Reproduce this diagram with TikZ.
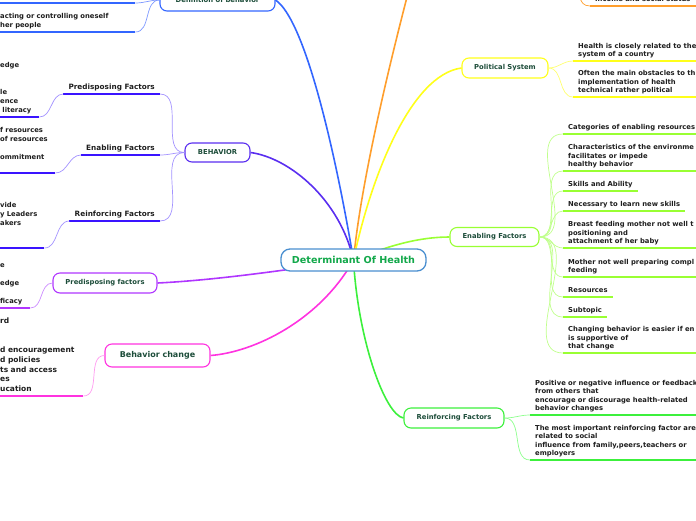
\documentclass[tikz,border=0pt]{standalone}
\usepackage{fontspec}
\setmainfont{DejaVu Sans}
\usetikzlibrary{backgrounds}

\definecolor{hubblue}{HTML}{4A8FD0}
\definecolor{hubgreen}{HTML}{12A84A}
\definecolor{topicgreen}{HTML}{1D4D3A}
\definecolor{leafgray}{HTML}{1E1E1E}
\definecolor{defblue}{HTML}{3366FF}
\definecolor{deftwig}{HTML}{7D98FF}
\definecolor{behviolet}{HTML}{5A2EF0}
\definecolor{behline}{HTML}{3A14FF}
\definecolor{behtwig}{HTML}{A393FF}
\definecolor{predpurple}{HTML}{B036FF}
\definecolor{predtwig}{HTML}{CC8CFF}
\definecolor{chgpink}{HTML}{FF33E0}
\definecolor{chgtwig}{HTML}{FF99F0}
\definecolor{econorange}{HTML}{FF9E2C}
\definecolor{polyellow}{HTML}{FFFF1A}
\definecolor{poltwig}{HTML}{FFFF70}
\definecolor{enablime}{HTML}{99FF33}
\definecolor{enabtwig}{HTML}{C0FF8C}
\definecolor{reinfgreen}{HTML}{3CF03C}
\definecolor{reinftwig}{HTML}{8CFF8C}

\begin{document}
\begin{tikzpicture}[x=1pt, y=1pt,
  hub/.style={draw=hubblue, fill=white, line width=1.3pt, rounded corners=9pt,
              minimum width=145pt, minimum height=22pt, inner sep=0pt,
              font=\bfseries\fontsize{9.6}{11}\selectfont, text=hubgreen},
  topic/.style={draw, fill=white, line width=1.1pt, rounded corners=7pt, inner sep=0pt,
              font=\bfseries\fontsize{6.8}{8}\selectfont, text=topicgreen},
  leaf/.style={anchor=south west, align=left, inner xsep=5pt, inner ysep=2.7pt,
              font=\bfseries\fontsize{6.8}{8.5}\selectfont, text=leafgray,
              execute at end node={\vphantom{gy}}},
  leafL/.style={leaf, font=\bfseries\fontsize{6.8}{9}\selectfont},
  label/.style={leaf, anchor=south east, font=\bfseries\fontsize{7.3}{8.5}\selectfont},
  limb/.style={line width=1.6pt},
  twig/.style={line width=0.7pt},
  uline/.style={line width=2pt}
]
\useasboundingbox (0,0) rectangle (696,-520);
\clip (0,0) rectangle (696,-520);

\node[hub] (hub) at (353.5,-260) {Determinant Of Health};

\node[topic, draw=defblue, minimum width=115pt, minimum height=22pt] (defn) at (217.5,0) {Definition of behavior};
\node[topic, draw=behviolet, minimum width=65pt, minimum height=19pt] (beh) at (217.5,-152.5) {BEHAVIOR};
\node[topic, draw=predpurple, minimum width=104pt, minimum height=20pt] (pred) at (105,-283) {Predisposing factors};
\node[topic, draw=chgpink, minimum width=105pt, minimum height=23pt,
      font=\bfseries\fontsize{8}{9}\selectfont] (chg) at (157.5,-355.5) {Behavior change};
\node[topic, draw=polyellow, minimum width=86pt, minimum height=20pt] (pol) at (505,-68) {Political System};
\node[topic, draw=enablime, minimum width=89pt, minimum height=19pt] (enab) at (494.5,-237) {Enabling Factors};
\node[topic, draw=reinfgreen, minimum width=100pt, minimum height=20pt] (reinf) at (454,-418) {Reinforcing Factors};
\coordinate (econW) at (425,70);
\coordinate (econE) at (572,60);

\node[leaf] (inc) at (590,-6) {Income and social status};

\node[leaf] (pol1) at (573,-61) {Health is closely related to the\\system of a country};
\node[leaf] (pol2) at (573,-97) {Often the main obstacles to th\\implementation of health\\technical rather political};

\node[leaf] (en1) at (563,-134) {Categories of enabling resources};
\node[leaf] (en2) at (563,-171) {Characteristics of the environme\\facilitates or impede\\healthy behavior};
\node[leaf] (en3) at (563,-191) {Skills and Ability};
\node[leaf] (en4) at (563,-211) {Necessary to learn new skills};
\node[leaf] (en5) at (563,-248) {Breast feeding mother not well t\\positioning and\\attachment of her baby};
\node[leaf] (en6) at (563,-277) {Mother not well preparing compl\\feeding};
\node[leaf] (en7) at (563,-297) {Resources};
\node[leaf] (en8) at (563,-317) {Subtopic};
\node[leaf] (en9) at (563,-353) {Changing behavior is easier if en\\is supportive of\\that change};

\node[leaf] (re1) at (530,-415) {Positive or negative influence or feedback\\from others that\\encourage or discourage health-related\\behavior changes};
\node[leaf] (re2) at (530,-460) {The most important reinforcing factor are\\related to social\\influence from family,peers,teachers or\\employers};

\node[leafL, text width=130pt] (def1) at (-5,-3) {};
\node[leafL, text width=130pt] (def2) at (-5,-32) {acting or controlling oneself\\her people};

\node[label] (bpre) at (160,-94) {Predisposing Factors};
\node[label] (benab) at (160,-155) {Enabling Factors};
\node[label] (breinf) at (160,-221) {Reinforcing Factors};
\node[leafL, text width=34pt] (bpre1) at (-5,-117) {edge\\\mbox{}\\\mbox{}\\le\\ence\\\ literacy};
\node[leafL, text width=50pt] (benab1) at (-5,-173) {f resources\\of resources\\\mbox{}\\ommitment\\\mbox{}};
\node[leafL, text width=39pt] (breinf1) at (-5,-248) {vide\\y Leaders\\akers\\\mbox{}\\\mbox{}};

\node[leafL, text width=25pt] (pred1) at (-5,-308) {e\\\mbox{}\\edge\\\mbox{}\\ficacy};
\node[leafL, text width=78pt, font=\bfseries\fontsize{7.5}{9.7}\selectfont] (chg1) at (-5,-396)
  {rd\\\mbox{}\\\mbox{}\\d encouragement\\d policies\\ts and access\\es\\ucation};

\begin{scope}[on background layer]
\draw[limb, defblue] (hub.center) .. controls (335,-150) and (305,-20) .. (defn.east);
\draw[limb, behviolet] (beh.east) .. controls (290,-158) and (340,-200) .. (hub.center);
\draw[limb, econorange] (hub.center) .. controls (362,-170) and (400,-20) .. (econW);
\draw[limb, polyellow] (hub.center) .. controls (370,-180) and (410,-75) .. (pol.west);
\draw[limb, enablime] (hub.center) .. controls (390,-245) and (420,-237) .. (enab.west);
\draw[limb, reinfgreen] (hub.center) .. controls (358,-340) and (385,-415) .. (reinf.west);
\draw[limb, chgpink] (hub.center) .. controls (320,-320) and (255,-352) .. (chg.east);
\draw[limb, predpurple] (hub.center) .. controls (300,-268) and (220,-280) .. (pred.east);
\end{scope}

\draw[twig, econorange] (econE) to[out=0, in=180] (inc.south west);
\draw[uline, econorange] (inc.south west) -- (inc.south east);

\draw[twig, poltwig] (pol.east) to[out=0, in=180] (pol1.south west);
\draw[twig, poltwig] (pol.east) to[out=0, in=180] (pol2.south west);
\draw[uline, polyellow] (pol1.south west) -- (pol1.south east);
\draw[uline, polyellow] (pol2.south west) -- (pol2.south east);

\draw[twig, enabtwig] (enab.east) to[out=0, in=180] (en1.south west);
\draw[twig, enabtwig] (enab.east) to[out=0, in=180] (en2.south west);
\draw[twig, enabtwig] (enab.east) to[out=0, in=180] (en3.south west);
\draw[twig, enabtwig] (enab.east) to[out=0, in=180] (en4.south west);
\draw[twig, enabtwig] (enab.east) to[out=0, in=180] (en5.south west);
\draw[twig, enabtwig] (enab.east) to[out=0, in=180] (en6.south west);
\draw[twig, enabtwig] (enab.east) to[out=0, in=180] (en7.south west);
\draw[twig, enabtwig] (enab.east) to[out=0, in=180] (en8.south west);
\draw[twig, enabtwig] (enab.east) to[out=0, in=180] (en9.south west);
\draw[uline, enablime] (en1.south west) -- (en1.south east);
\draw[uline, enablime] (en2.south west) -- (en2.south east);
\draw[uline, enablime] (en3.south west) -- (en3.south east);
\draw[uline, enablime] (en4.south west) -- (en4.south east);
\draw[uline, enablime] (en5.south west) -- (en5.south east);
\draw[uline, enablime] (en6.south west) -- (en6.south east);
\draw[uline, enablime] (en7.south west) -- (en7.south east);
\draw[uline, enablime] (en8.south west) -- (en8.south east);
\draw[uline, enablime] (en9.south west) -- (en9.south east);

\draw[twig, reinftwig] (reinf.east) to[out=0, in=180] (re1.south west);
\draw[twig, reinftwig] (reinf.east) to[out=0, in=180] (re2.south west);
\draw[uline, reinfgreen] (re1.south west) -- (re1.south east);
\draw[uline, reinfgreen] (re2.south west) -- (re2.south east);

\draw[twig, deftwig] (defn.west) to[out=180, in=0] (def1.south east);
\draw[twig, deftwig] (defn.west) to[out=180, in=0] (def2.south east);
\draw[uline, defblue] (def1.south west) -- (def1.south east);
\draw[uline, defblue] (def2.south west) -- (def2.south east);

\draw[twig, behtwig] (beh.west) to[out=180, in=0] (bpre.south east);
\draw[twig, behtwig] (beh.west) to[out=180, in=0] (benab.south east);
\draw[twig, behtwig] (beh.west) to[out=180, in=0] (breinf.south east);
\draw[uline, behline] (bpre.south west) -- (bpre.south east);
\draw[uline, behline] (benab.south west) -- (benab.south east);
\draw[uline, behline] (breinf.south west) -- (breinf.south east);
\draw[twig, behtwig] (bpre.south west) to[out=180, in=0] (bpre1.south east);
\draw[twig, behtwig] (benab.south west) to[out=180, in=0] (benab1.south east);
\draw[twig, behtwig] (breinf.south west) to[out=180, in=0] (breinf1.south east);
\draw[uline, behline] (bpre1.south west) -- (bpre1.south east);
\draw[uline, behline] (benab1.south west) -- (benab1.south east);
\draw[uline, behline] (breinf1.south west) -- (breinf1.south east);

\draw[twig, predtwig] (pred.west) to[out=180, in=0] (pred1.south east);
\draw[uline, predpurple] (pred1.south west) -- (pred1.south east);
\draw[twig, chgtwig] (chg.west) to[out=180, in=0] (chg1.south east);
\draw[uline, chgpink] (chg1.south west) -- (chg1.south east);
\end{tikzpicture}
\end{document}
